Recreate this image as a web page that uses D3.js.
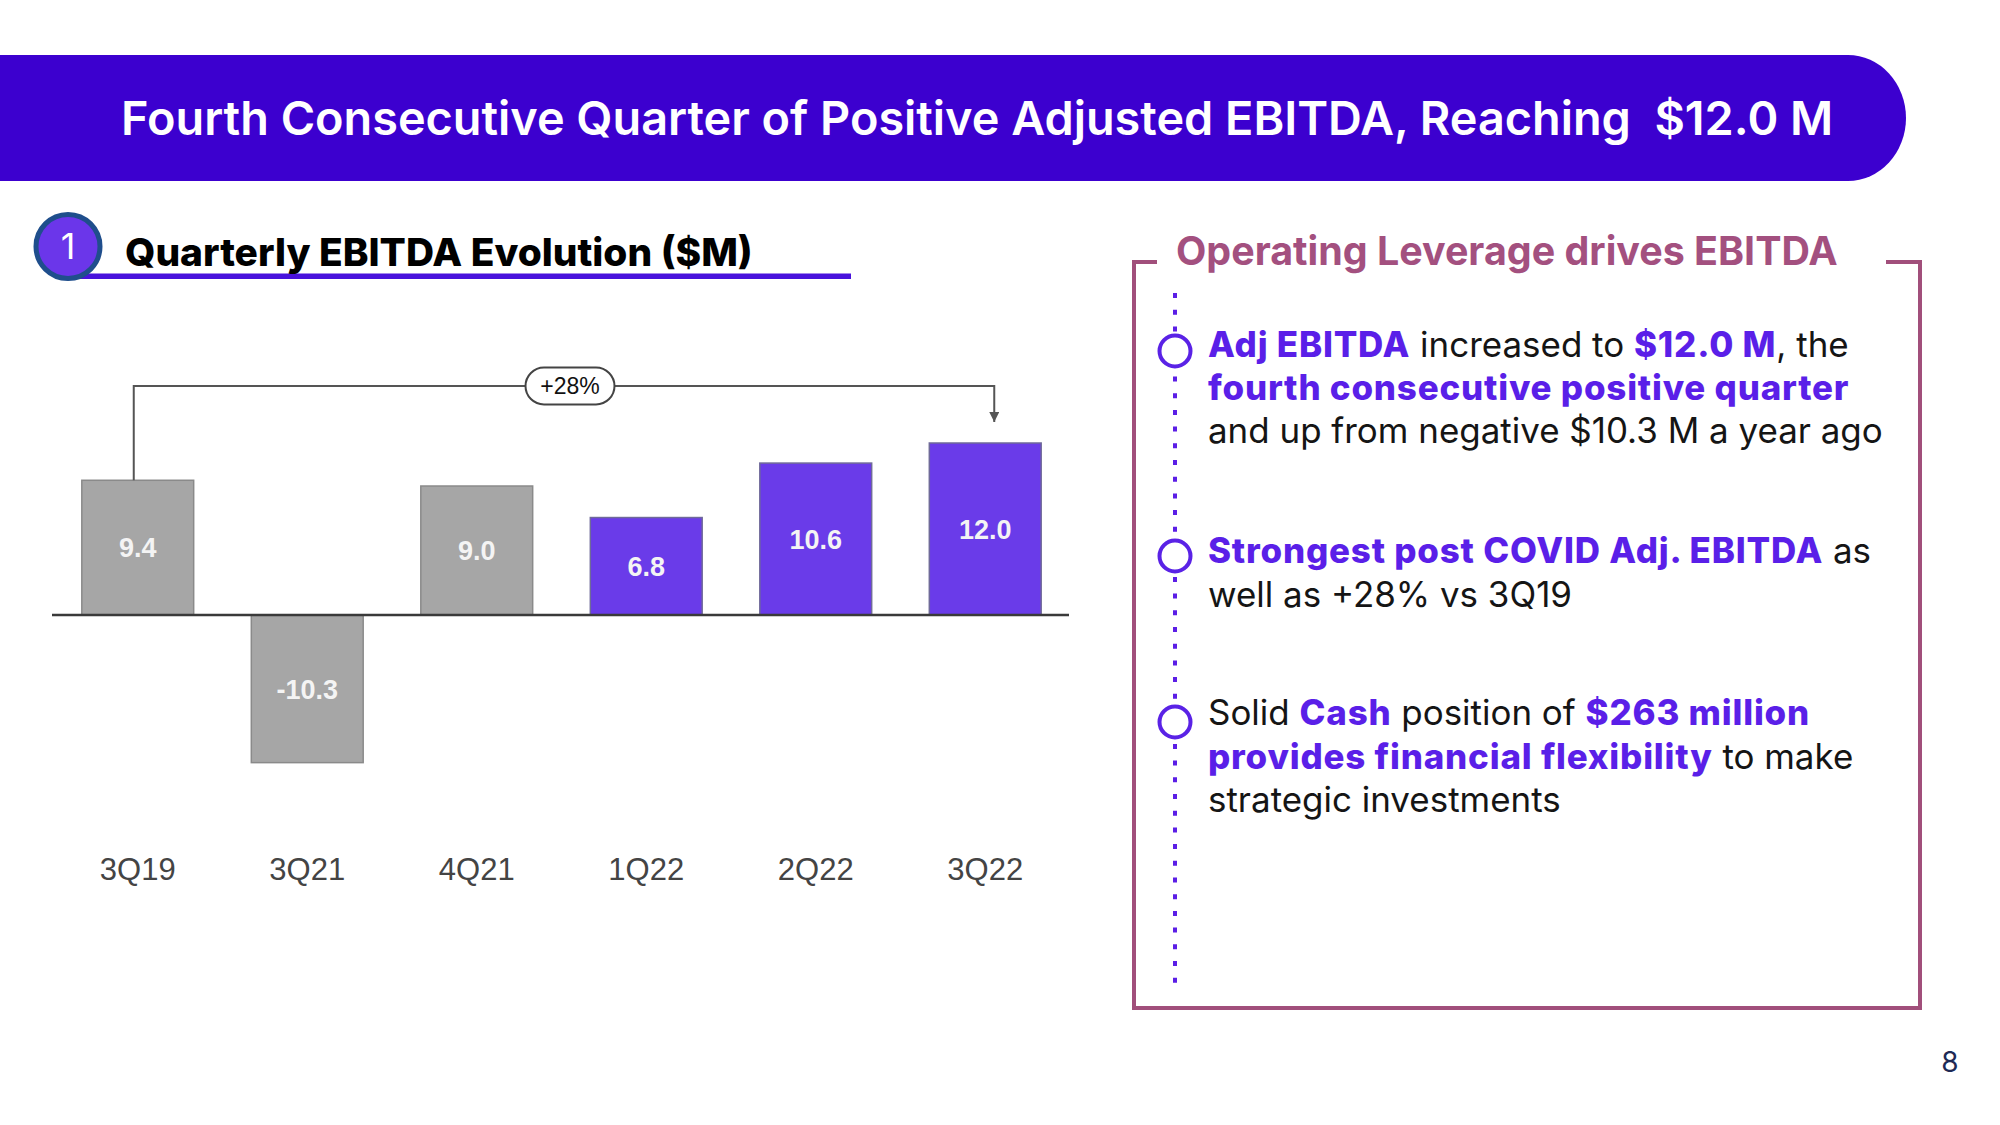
<!DOCTYPE html>
<html><head><meta charset="utf-8">
<script src="https://cdn.jsdelivr.net/npm/d3@7"></script>
<style>html,body{margin:0;padding:0;background:#fff;} svg{display:block;}</style>
</head><body>
<svg id="c" width="2000" height="1125"></svg>
<script>
// ---------- data ----------
const categories = ["3Q19", "3Q21", "4Q21", "1Q22", "2Q22", "3Q22"];
const values = [9.4, -10.3, 9.0, 6.8, 10.6, 12.0];
const highlighted = [false, false, false, true, true, true];
const valueLabels = ["9.4", "-10.3", "9.0", "6.8", "10.6", "12.0"];
const growthFrom = "3Q19";
const growthTo = "3Q22";
const growthLabel = "+28%";
const headerTitle = "Fourth Consecutive Quarter of Positive Adjusted EBITDA, Reaching\u00A0 $12.0 M";
const sectionNumber = "1";
const chartTitle = "Quarterly EBITDA Evolution ($M)";
const panelTitle = "Operating Leverage drives EBITDA";
const bulletLines = [
  [
    [["Adj EBITDA", true], [" increased to ", false], ["$12.0 M", true], [", the", false]],
    [["fourth consecutive positive quarter", true]],
    [["and up from negative $10.3 M a year ago", false]]
  ],
  [
    [["Strongest post COVID Adj. EBITDA", true], [" as", false]],
    [["well as +28% vs 3Q19", false]]
  ],
  [
    [["Solid ", false], ["Cash", true], [" position of ", false], ["$263 million", true]],
    [["provides financial flexibility", true], [" to make", false]],
    [["strategic investments", false]]
  ]
];
const pageNumber = "8";

// ---------- helpers ----------
const svg = d3.select("#c");
function fitWidth(sel, target) {
  const fs = parseFloat(sel.attr("font-size"));
  const w = sel.node().getComputedTextLength();
  sel.attr("font-size", fs * target / w);
  return fs * target / w;
}
const HEAD = "Inter, 'Noto Sans', sans-serif";
const ARIAL = "'Liberation Sans', Arial, sans-serif";

// ---------- header band ----------
svg.append("path")
  .attr("d", "M0,55 H1848 A58,63 0 0 1 1848,181 H0 Z")
  .attr("fill", "#3c00cf");
const ht = svg.append("text")
  .attr("x", 121).attr("y", 135)
  .attr("font-family", HEAD).attr("font-weight", 600)
  .attr("font-size", 46).attr("fill", "#fff")
  .style("white-space", "pre")
  .text(headerTitle);
fitWidth(ht, 1713);

// ---------- section heading ----------
svg.append("rect").attr("x", 77).attr("y", 273.5).attr("width", 774).attr("height", 5.5).attr("fill", "#4812dc");
svg.append("circle").attr("cx", 68).attr("cy", 246.5).attr("r", 32)
  .attr("fill", "#6b36ea").attr("stroke", "#1f4e8c").attr("stroke-width", 5);
svg.append("text").attr("x", 68).attr("y", 259).attr("text-anchor", "middle")
  .attr("font-family", HEAD).attr("font-size", 36).attr("fill", "#fff").text(sectionNumber);
const st = svg.append("text").attr("x", 125).attr("y", 266)
  .attr("font-family", HEAD).attr("font-weight", 800).attr("font-size", 35).attr("fill", "#000")
  .text(chartTitle);
fitWidth(st, 628);

// ---------- bar chart ----------
const x = d3.scaleBand().domain(categories).range([53, 1070]).paddingInner(0.34).paddingOuter(0.17);
const y = d3.scaleLinear().domain([0, 12]).range([615, 443]);
const data = categories.map((c, i) => ({c, v: values[i], h: highlighted[i], l: valueLabels[i]}));

const g = svg.append("g");
g.selectAll("rect.bar").data(data).join("rect").attr("class", "bar")
  .attr("x", d => x(d.c))
  .attr("y", d => Math.min(y(d.v), y(0)))
  .attr("width", x.bandwidth())
  .attr("height", d => Math.abs(y(d.v) - y(0)))
  .attr("fill", d => d.h ? "#6a3be9" : "#a6a6a6")
  .attr("stroke", d => d.h ? "#6f6a99" : "#8a8a8a")
  .attr("stroke-width", 1.5);

// zero line
g.append("line").attr("x1", 52).attr("x2", 1069).attr("y1", y(0)).attr("y2", y(0))
  .attr("stroke", "#3a3a3a").attr("stroke-width", 2.5);

// value labels
g.selectAll("text.val").data(data).join("text").attr("class", "val")
  .attr("x", d => x(d.c) + x.bandwidth() / 2)
  .attr("y", d => (y(d.v) + y(0)) / 2)
  .attr("dy", "0.36em")
  .attr("text-anchor", "middle")
  .attr("font-family", ARIAL).attr("font-weight", 700).attr("font-size", 27)
  .attr("fill", "#f4f4f4")
  .text(d => d.l);

// category axis labels
const xAxis = d3.axisBottom(x).tickSize(0).tickPadding(0);
const ax = g.append("g").attr("transform", "translate(0,880)").call(xAxis);
ax.select(".domain").remove();
ax.selectAll("text").attr("dy", 0).attr("font-family", ARIAL).attr("font-size", 31).attr("fill", "#444");

// growth bracket
const xa = x(growthFrom) + x.bandwidth() / 2 - 4;
const xb = x(growthTo) + x.bandwidth() / 2 + 9;
const yTop = 386;
const defs = svg.append("defs");
defs.append("marker").attr("id", "arr").attr("viewBox", "0 0 10 10").attr("refX", 10).attr("refY", 5)
  .attr("markerWidth", 10).attr("markerHeight", 10).attr("markerUnits", "userSpaceOnUse").attr("orient", "auto")
  .append("path").attr("d", "M0,0 L10,5 L0,10 Z").attr("fill", "#555");
g.append("path")
  .attr("d", `M${xa},${y(values[categories.indexOf(growthFrom)])} V${yTop} H${xb} V${y(values[categories.indexOf(growthTo)]) - 21}`)
  .attr("fill", "none").attr("stroke", "#555").attr("stroke-width", 2)
  .attr("marker-end", "url(#arr)");
const pillCx = (xa + xb) / 2 + 6;
g.append("rect").attr("x", pillCx - 44.5).attr("y", yTop - 18.5).attr("width", 89).attr("height", 37)
  .attr("rx", 18.5).attr("fill", "#fff").attr("stroke", "#444").attr("stroke-width", 2);
g.append("text").attr("x", pillCx).attr("y", yTop).attr("dy", "0.35em").attr("text-anchor", "middle")
  .attr("font-family", ARIAL).attr("font-size", 23).attr("fill", "#111").text(growthLabel);

// ---------- right panel ----------
const BOX = "#a14f7b";
svg.append("path")
  .attr("d", "M1157,262 H1134 V1008 H1920 V262 H1886")
  .attr("fill", "none").attr("stroke", BOX).attr("stroke-width", 4);
const pt = svg.append("text").attr("x", 1176).attr("y", 265)
  .attr("font-family", HEAD).attr("font-weight", 700).attr("font-size", 34).attr("fill", "#a3507f")
  .text(panelTitle);
fitWidth(pt, 662);

// dotted timeline
svg.append("line").attr("x1", 1175).attr("x2", 1175).attr("y1", 293).attr("y2", 985)
  .attr("stroke", "#5b1ee6").attr("stroke-width", 4).attr("stroke-dasharray", "5 11.7");

const bulletCy = [351, 556, 722];
const blockBaselines = [[356.5, 400, 442.5], [563, 606.5], [725, 768.5, 812]];
svg.selectAll("circle.bul").data(bulletCy).join("circle").attr("class", "bul")
  .attr("cx", 1175).attr("cy", d => d).attr("r", 15.5)
  .attr("fill", "#fff").attr("stroke", "#5a22e6").attr("stroke-width", 4);

// measure a reference line for panel font-size
const probe = svg.append("text").attr("x", 1208).attr("y", -100)
  .attr("font-family", HEAD).attr("font-size", 33).text(bulletLines[0][2][0][0]);
const panelFs = fitWidth(probe, 675);
probe.remove();

bulletLines.forEach((block, bi) => {
  block.forEach((line, li) => {
    const t = svg.append("text").attr("x", 1208).attr("y", blockBaselines[bi][li])
      .attr("font-family", HEAD).attr("font-size", panelFs).style("white-space", "pre");
    line.forEach(([s, b]) => {
      t.append("tspan").attr("font-weight", b ? 800 : 400)
        .attr("letter-spacing", b ? 0.8 : 0)
        .attr("fill", b ? "#5a1fe8" : "#151515")
        .text(s);
    });
  });
});

// page number
svg.append("text").attr("x", 1950).attr("y", 1071.5).attr("text-anchor", "middle")
  .attr("font-family", HEAD).attr("font-size", 28).attr("fill", "#1e2a55").text(pageNumber);
</script>
</body></html>
